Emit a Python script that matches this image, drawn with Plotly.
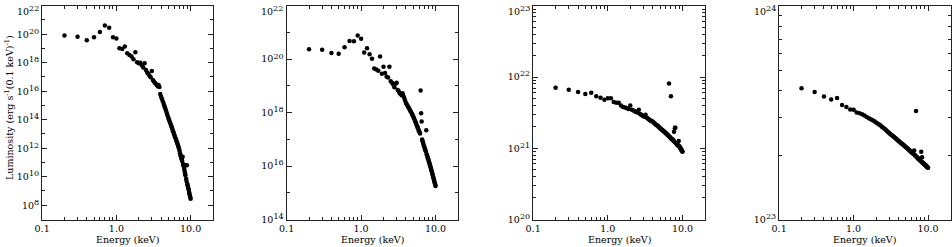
import plotly.graph_objects as go

# ---------------- data ----------------
energy_kev = [
    0.2, 0.3, 0.4, 0.5, 0.6, 0.7, 0.8, 0.9, 1.0,
    1.1, 1.2, 1.3, 1.4, 1.5, 1.6, 1.7, 1.8, 1.9, 2.0,
    2.1, 2.2, 2.3, 2.4, 2.5, 2.6, 2.7, 2.8, 2.9, 3.0,
    3.1, 3.2, 3.3, 3.4, 3.5, 3.6, 3.7, 3.8, 3.9, 4.0,
    4.1, 4.2, 4.3, 4.4, 4.5, 4.6, 4.7, 4.8, 4.9, 5.0,
    5.1, 5.2, 5.3, 5.4, 5.5, 5.6, 5.7, 5.8, 5.9, 6.0,
    6.1, 6.2, 6.3, 6.4, 6.5, 6.6, 6.7, 6.8, 6.9, 7.0,
    7.1, 7.2, 7.3, 7.4, 7.5, 7.6, 7.7, 7.8, 7.9, 8.0,
    8.1, 8.2, 8.3, 8.4, 8.5, 8.6, 8.7, 8.8, 8.9, 9.0,
    9.1, 9.2, 9.3, 9.4, 9.5, 9.6, 9.7, 9.8, 9.9, 10.0,
]

# log10 of luminosity (erg s^-1 (0.1 keV)^-1), one list per panel
lum1_log10 = [
    19.91, 19.82, 19.58, 19.79, 20.15, 20.62, 20.45, 19.79, 19.70,
    19.02, 18.97, 19.14, 18.67, 18.55, 18.43, 18.24, 18.73, 18.03, 17.96,
    18.00, 17.82, 17.66, 17.96, 17.49, 17.31, 17.21, 17.07, 16.98, 17.42,
    16.79, 16.69, 16.60, 16.50, 16.45, 16.35, 16.44, 16.30, 15.80, 15.62,
    15.47, 15.32, 15.17, 15.02, 14.87, 14.72, 14.57, 14.42, 14.28, 14.14,
    14.02, 13.90, 13.78, 13.66, 13.55, 13.43, 13.31, 13.19, 13.08, 12.96,
    12.86, 12.76, 12.66, 12.56, 12.46, 12.36, 12.26, 12.15, 12.05, 11.95,
    11.80, 11.65, 11.50, 11.40, 11.30, 11.20, 11.10, 11.40, 10.90, 10.80,
    10.70, 10.55, 10.40, 10.25, 10.10, 10.80, 9.85, 9.70, 10.80, 9.50,
    9.40, 9.30, 9.20, 9.10, 8.95, 8.85, 8.75, 8.65, 8.55, 8.45,
]

lum2_log10 = [
    20.37, 20.35, 20.23, 20.20, 20.45, 20.68, 20.67, 20.89, 20.76,
    20.25, 20.41, 20.18, 20.02, 19.65, 19.61, 19.57, 20.10, 19.45, 19.72,
    19.48, 19.34, 19.31, 19.72, 19.17, 19.12, 19.05, 18.95, 19.08, 19.12,
    18.85, 18.80, 18.72, 18.70, 18.65, 18.72, 18.62, 18.55, 18.45, 18.36,
    18.31, 18.26, 18.21, 18.16, 18.11, 18.06, 18.01, 17.96, 17.91, 17.86,
    17.80, 17.75, 17.69, 17.64, 17.58, 17.52, 17.47, 17.41, 17.36, 17.30,
    17.26, 17.22, 18.83, 17.98, 17.67, 16.99, 16.93, 16.86, 16.80, 16.74,
    16.69, 16.64, 16.59, 16.54, 17.34, 16.44, 16.39, 16.34, 16.29, 16.24,
    16.19, 16.14, 16.09, 16.04, 15.99, 15.94, 15.89, 15.84, 15.79, 15.74,
    15.69, 15.64, 15.59, 15.54, 15.49, 15.44, 15.39, 15.34, 15.30, 15.25,
]

lum3_log10 = [
    21.85, 21.82, 21.79, 21.76, 21.78, 21.73, 21.71, 21.68, 21.70,
    21.70, 21.65, 21.64, 21.64, 21.60, 21.58, 21.57, 21.56, 21.55, 21.60,
    21.54, 21.53, 21.52, 21.51, 21.50, 21.54, 21.48, 21.47, 21.46, 21.45,
    21.44, 21.47, 21.43, 21.42, 21.41, 21.40, 21.39, 21.385, 21.38, 21.37,
    21.36, 21.35, 21.34, 21.33, 21.325, 21.32, 21.31, 21.30, 21.29, 21.28,
    21.273, 21.266, 21.259, 21.252, 21.245, 21.238, 21.231, 21.224, 21.217, 21.21,
    21.203, 21.196, 21.189, 21.182, 21.175, 21.91, 21.161, 21.154, 21.147, 21.73,
    21.134, 21.128, 21.122, 21.116, 21.11, 21.104, 21.23, 21.092, 21.28, 21.29,
    21.074, 21.068, 21.062, 21.056, 21.05, 21.045, 21.04, 21.035, 21.10, 21.03,
    21.022, 21.014, 21.006, 20.998, 20.99, 20.982, 20.974, 20.966, 20.958, 20.95,
]

lum4_log10 = [
    23.614, 23.597, 23.575, 23.561, 23.569, 23.536, 23.526, 23.515, 23.513,
    23.500, 23.497, 23.492, 23.486, 23.479, 23.474, 23.469, 23.464, 23.459, 23.454,
    23.449, 23.444, 23.439, 23.434, 23.429, 23.424, 23.419, 23.414, 23.409, 23.404,
    23.400, 23.396, 23.392, 23.389, 23.385, 23.381, 23.378, 23.374, 23.371, 23.367,
    23.364, 23.361, 23.358, 23.355, 23.353, 23.350, 23.347, 23.344, 23.342, 23.339,
    23.336, 23.334, 23.331, 23.329, 23.326, 23.324, 23.321, 23.319, 23.316, 23.314,
    23.312, 23.310, 23.308, 23.306, 23.322, 23.301, 23.299, 23.297, 23.508, 23.292,
    23.290, 23.288, 23.286, 23.284, 23.282, 23.280, 23.278, 23.276, 23.274, 23.272,
    23.316, 23.270, 23.290, 23.266, 23.264, 23.263, 23.261, 23.260, 23.258, 23.257,
    23.255, 23.253, 23.252, 23.250, 23.248, 23.247, 23.245, 23.244, 23.242, 23.241,
]

x_tick_vals = [0.1, 1.0, 10.0]
x_tick_text = ["0.1", "1.0", "10.0"]
x_title = "Energy (keV)"
y_title = "Luminosity (erg s<sup>-1</sup>(0.1 keV)<sup>-1</sup>)"

# y-axis exponents: range, labelled decades, minor ticks
panel_y_range = [(7, 22), (14, 22), (20, 23), (23, 24)]
panel_y_labels = [
    [8, 10, 12, 14, 16, 18, 20, 22],
    [14, 16, 18, 20, 22],
    [20, 21, 22, 23],
    [23, 24],
]
panel_y_minor = [
    [10.0 ** e for e in [9, 11, 13, 15, 17, 19, 21]],
    [10.0 ** e for e in [15, 17, 19, 21]],
    [m * 10.0 ** e for e in [20, 21, 22] for m in range(2, 10)],
    [m * 10.0 ** 23 for m in range(2, 10)],
]
x_minor = [m * 10.0 ** e for e in [-1, 0] for m in range(2, 10)]

# ---------------- layout geometry (pixels) ----------------
W, H = 952, 247
panel_px = [(42, 213), (286.5, 458), (533, 705), (779, 950.5)]
y_top_px, y_bot_px = 5.7, 219.5
EPS = 0.0015  # tiny padding so the end-of-range decade labels are kept

FONT = "DejaVu Serif"
FS = 9.5
series = [lum1_log10, lum2_log10, lum3_log10, lum4_log10]


def sup_label(e):
    return "10<sup><span style='font-size:8px'>%d</span></sup>" % e


fig = go.Figure()
layout = dict(
    width=W, height=H,
    margin=dict(l=0, r=0, t=0, b=0, autoexpand=False),
    paper_bgcolor="white", plot_bgcolor="white",
    showlegend=False,
    font=dict(family=FONT, size=FS, color="black"),
    annotations=[],
)

for i, lum in enumerate(series):
    k = "" if i == 0 else str(i + 1)
    fig.add_trace(go.Scatter(
        x=energy_kev, y=[10.0 ** v for v in lum],
        mode="markers",
        marker=dict(size=4.5, color="black", line=dict(width=0)),
        xaxis="x" + k, yaxis="y" + k,
        cliponaxis=False,
    ))
    x0, x1 = panel_px[i]
    common = dict(
        showline=True, linecolor="#222", linewidth=1, mirror="allticks",
        ticks="inside", ticklen=5, tickwidth=1, tickcolor="#222",
        showgrid=False, zeroline=False, automargin=False,
        ticklabeloverflow="allow",
        tickfont=dict(family=FONT, size=FS, color="black"),
    )
    layout["xaxis" + k] = dict(
        common, type="log", range=[-1 - EPS, 1.30103],
        domain=[x0 / W, x1 / W], anchor="y" + k,
        tickmode="array", tickvals=x_tick_vals, ticktext=x_tick_text,
        minor=dict(tickmode="array", tickvals=x_minor, ticks="inside",
                   ticklen=3, tickwidth=1, tickcolor="#222"),
    )
    lo, hi = panel_y_range[i]
    labels = panel_y_labels[i]
    # the top decade label sits a little below its tick (as in the original)
    ticktext = [sup_label(e) for e in labels[:-1]] + [""]
    layout["yaxis" + k] = dict(
        common, type="log", range=[lo - EPS, hi + EPS],
        domain=[1 - y_bot_px / H, 1 - y_top_px / H], anchor="x" + k,
        tickmode="array",
        tickvals=[10.0 ** e for e in labels],
        ticktext=ticktext,
        minor=dict(tickmode="array", tickvals=panel_y_minor[i], ticks="inside",
                   ticklen=3, tickwidth=1, tickcolor="#222"),
    )
    layout["annotations"].append(dict(
        text=sup_label(labels[-1]), xref="paper", yref="paper",
        x=(x0 - 1.5) / W, y=1 - 11 / H,
        showarrow=False, xanchor="right", yanchor="middle",
        font=dict(family=FONT, size=FS, color="black"),
    ))
    layout["annotations"].append(dict(
        text=x_title, xref="paper", yref="paper",
        x=(x0 + x1) / 2 / W, y=1 - 239 / H,
        showarrow=False, xanchor="center", yanchor="middle",
        font=dict(family=FONT, size=FS, color="black"),
    ))

layout["annotations"].append(dict(
    text=y_title, xref="paper", yref="paper",
    x=9 / W, y=1 - 108 / H, textangle=-90,
    showarrow=False, xanchor="center", yanchor="middle",
    font=dict(family=FONT, size=FS, color="black"),
))

fig.update_layout(**layout)
# remove the browser's default 8px body margin so the figure sits at (0, 0)
fig.write_html("out.html",
               config={"displayModeBar": False, "staticPlot": True},
               post_script="document.body.style.margin='0';"
                           "document.body.style.overflow='hidden';")
